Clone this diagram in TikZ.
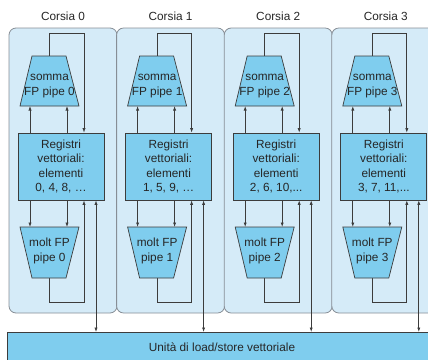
\documentclass[tikz,border=0pt]{standalone}
\usepackage{fontspec}
\setmainfont{Liberation Sans}
\usetikzlibrary{arrows.meta,calc}
\definecolor{lanefill}{RGB}{213,235,248}
\definecolor{lanedraw}{RGB}{135,142,150}
\definecolor{unitfill}{RGB}{127,205,238}
\definecolor{wirecol}{RGB}{60,60,60}
\tikzset{
  lanebox/.style={draw=lanedraw, fill=lanefill, line width=0.8pt, rounded corners=7pt},
  unit/.style={draw=wirecol, fill=unitfill, line width=0.7pt},
  wire/.style={draw=wirecol, line width=0.7pt},
  arr/.style={wire, -{Latex[length=4.5pt,width=3.2pt]}},
  biarr/.style={wire, {Latex[length=4.5pt,width=3.2pt]}-{Latex[length=4.5pt,width=3.2pt]}},
  lbl/.style={font=\fontsize{11.8}{14.5}\selectfont, align=center, text=black!85, inner sep=0pt},
}
\begin{document}
\begin{tikzpicture}[x=1pt,y=-1pt]
\useasboundingbox (0,0) rectangle (428,359);
\clip (0,0) rectangle (428,359);

% shared vector load/store unit
\node[unit, lbl, minimum width=430pt, minimum height=30pt, anchor=north west]
  (ls) at (7,332) {};
\node[lbl] (lstext) at (222,347) {Unità di load/store vettoriale};

% the four lanes
\foreach \i/\el in {0/{0, 4, 8, …},1/{1, 5, 9, …},2/{2, 6, 10,...},3/{3, 7, 11,...}}{
  \pgfmathsetmacro\L{9+107.6*\i}
  \begin{scope}[shift={(\L,0)}]
    \draw[lanebox] (0,28) rectangle (108,313);
    \node[lbl] (title\i) at (54,16) {Corsia \i};

    % register file of the lane
    \node[unit, lbl, minimum width=86pt, minimum height=67pt]
      (reg\i) at (52,166.5) {Registri\\vettoriali:\\elementi\\\el};

    % connection points on the pipelines
    \coordinate (aT\i) at (40.5,56);
    \coordinate (aL\i) at (21,106);
    \coordinate (aR\i) at (58,106);
    \coordinate (mL\i) at (21,227);
    \coordinate (mR\i) at (58,227);
    \coordinate (mB\i) at (40.5,278);
    \coordinate (fa\i) at (75,33);
    \coordinate (fm\i) at (75,302);
    \coordinate (bus\i) at (87,0);

    % operand and result paths
    \draw[arr] (reg\i.north -| aL\i) -- (aL\i);
    \draw[arr] (reg\i.north -| aR\i) -- (aR\i);
    \draw[arr] (aT\i) |- (fa\i) -- (fa\i |- reg\i.north);
    \draw[arr] (reg\i.south -| mL\i) -- (mL\i);
    \draw[arr] (reg\i.south -| mR\i) -- (mR\i);
    \draw[arr] (mB\i) |- (fm\i) -- (fm\i |- reg\i.south);
    \draw[biarr] (reg\i.south -| bus\i) -- (bus\i |- ls.north);

    % FP add pipeline
    \draw[unit] (23,56) -- (57,56) -- (70,106) -- (11,106) -- cycle;
    \node[lbl] (add\i) at (40.5,86) {somma\\FP pipe \i};

    % FP multiply pipeline
    \draw[unit] (11,227) -- (70,227) -- (57,278) -- (23,278) -- cycle;
    \node[lbl] (mul\i) at (40.5,251) {molt FP\\pipe \i};
  \end{scope}
}
\end{tikzpicture}
\end{document}
